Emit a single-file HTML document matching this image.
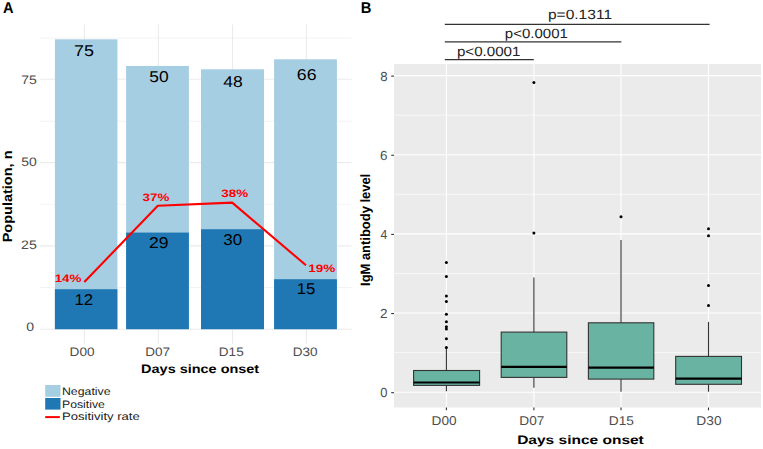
<!DOCTYPE html>
<html><head><meta charset="utf-8"><style>
html,body{margin:0;padding:0;background:#fff;}
svg{display:block;font-family:"Liberation Sans",sans-serif;text-rendering:geometricPrecision;}
</style></head><body>
<svg width="763" height="449" viewBox="0 0 763 449">
<rect width="763" height="449" fill="#fff"/>
<line x1="40" x2="351.5" y1="287.50" y2="287.50" stroke="#ebebeb" stroke-width="0.6"/>
<line x1="40" x2="351.5" y1="204.30" y2="204.30" stroke="#ebebeb" stroke-width="0.6"/>
<line x1="40" x2="351.5" y1="121.20" y2="121.20" stroke="#ebebeb" stroke-width="0.6"/>
<line x1="40" x2="351.5" y1="38.10" y2="38.10" stroke="#ebebeb" stroke-width="0.6"/>
<line x1="40" x2="351.5" y1="329.20" y2="329.20" stroke="#ebebeb" stroke-width="1.1"/>
<line x1="40" x2="351.5" y1="245.90" y2="245.90" stroke="#ebebeb" stroke-width="1.1"/>
<line x1="40" x2="351.5" y1="162.60" y2="162.60" stroke="#ebebeb" stroke-width="1.1"/>
<line x1="40" x2="351.5" y1="79.30" y2="79.30" stroke="#ebebeb" stroke-width="1.1"/>
<line x1="84.40" x2="84.40" y1="24.5" y2="343.7" stroke="#ebebeb" stroke-width="1.1"/>
<line x1="158.40" x2="158.40" y1="24.5" y2="343.7" stroke="#ebebeb" stroke-width="1.1"/>
<line x1="232.50" x2="232.50" y1="24.5" y2="343.7" stroke="#ebebeb" stroke-width="1.1"/>
<line x1="306.40" x2="306.40" y1="24.5" y2="343.7" stroke="#ebebeb" stroke-width="1.1"/>
<rect x="54.90" y="39.32" width="62.50" height="289.88" fill="#a6cee3"/>
<rect x="54.90" y="289.22" width="62.50" height="39.98" fill="#1f78b4"/>
<rect x="126.10" y="65.97" width="62.80" height="263.23" fill="#a6cee3"/>
<rect x="126.10" y="232.57" width="62.80" height="96.63" fill="#1f78b4"/>
<rect x="201.00" y="69.30" width="63.00" height="259.90" fill="#a6cee3"/>
<rect x="201.00" y="229.24" width="63.00" height="99.96" fill="#1f78b4"/>
<rect x="274.10" y="59.31" width="62.80" height="269.89" fill="#a6cee3"/>
<rect x="274.10" y="279.22" width="62.80" height="49.98" fill="#1f78b4"/>
<text x="73.98" y="55.60" font-size="15.70" font-weight="normal" fill="#000" textLength="19.97" lengthAdjust="spacingAndGlyphs">75</text>
<text x="149.30" y="82.40" font-size="15.70" font-weight="normal" fill="#000" textLength="19.38" lengthAdjust="spacingAndGlyphs">50</text>
<text x="223.30" y="86.80" font-size="15.70" font-weight="normal" fill="#000" textLength="19.46" lengthAdjust="spacingAndGlyphs">48</text>
<text x="296.80" y="79.80" font-size="15.70" font-weight="normal" fill="#000" textLength="19.68" lengthAdjust="spacingAndGlyphs">66</text>
<text x="74.43" y="304.50" font-size="15.70" font-weight="normal" fill="#000" textLength="18.62" lengthAdjust="spacingAndGlyphs">12</text>
<text x="149.12" y="248.00" font-size="15.70" font-weight="normal" fill="#000" textLength="19.51" lengthAdjust="spacingAndGlyphs">29</text>
<text x="223.25" y="244.70" font-size="15.70" font-weight="normal" fill="#000" textLength="18.91" lengthAdjust="spacingAndGlyphs">30</text>
<text x="296.72" y="294.40" font-size="15.70" font-weight="normal" fill="#000" textLength="18.68" lengthAdjust="spacingAndGlyphs">15</text>
<polyline points="84.3,282.0 157.8,205.8 232.2,202.6 306.0,265.3" fill="none" stroke="#ff0000" stroke-width="2.1" stroke-linejoin="round"/>
<text x="54.65" y="281.60" font-size="10.80" font-weight="bold" fill="#ff0000" textLength="26.90" lengthAdjust="spacingAndGlyphs">14%</text>
<text x="142.59" y="200.70" font-size="10.80" font-weight="bold" fill="#ff0000" textLength="26.76" lengthAdjust="spacingAndGlyphs">37%</text>
<text x="221.39" y="196.80" font-size="10.80" font-weight="bold" fill="#ff0000" textLength="26.86" lengthAdjust="spacingAndGlyphs">38%</text>
<text x="308.25" y="271.80" font-size="10.80" font-weight="bold" fill="#ff0000" textLength="27.11" lengthAdjust="spacingAndGlyphs">19%</text>
<text x="21.29" y="83.80" font-size="12.30" font-weight="normal" fill="#4d4d4d" textLength="15.50" lengthAdjust="spacingAndGlyphs">75</text>
<text x="21.24" y="166.10" font-size="12.30" font-weight="normal" fill="#4d4d4d" textLength="15.50" lengthAdjust="spacingAndGlyphs">50</text>
<text x="21.09" y="248.60" font-size="12.30" font-weight="normal" fill="#4d4d4d" textLength="15.70" lengthAdjust="spacingAndGlyphs">25</text>
<text x="26.15" y="330.80" font-size="12.30" font-weight="normal" fill="#4d4d4d" textLength="7.79" lengthAdjust="spacingAndGlyphs">0</text>
<text x="69.58" y="355.80" font-size="12.30" font-weight="normal" fill="#4d4d4d" textLength="25.05" lengthAdjust="spacingAndGlyphs">D00</text>
<text x="145.29" y="355.80" font-size="12.30" font-weight="normal" fill="#4d4d4d" textLength="24.79" lengthAdjust="spacingAndGlyphs">D07</text>
<text x="218.89" y="355.80" font-size="12.30" font-weight="normal" fill="#4d4d4d" textLength="24.77" lengthAdjust="spacingAndGlyphs">D15</text>
<text x="292.69" y="355.80" font-size="12.30" font-weight="normal" fill="#4d4d4d" textLength="24.84" lengthAdjust="spacingAndGlyphs">D30</text>
<text x="141.13" y="373.20" font-size="12.20" font-weight="bold" fill="#000" textLength="118.04" lengthAdjust="spacingAndGlyphs">Days since onset</text>
<text transform="rotate(-90)" x="-242.37" y="11.70" font-size="13.30" font-weight="bold" fill="#000" textLength="91.87" lengthAdjust="spacingAndGlyphs">Population, n</text>
<text x="3.04" y="12.60" font-size="15.60" font-weight="bold" fill="#000" textLength="10.55" lengthAdjust="spacingAndGlyphs">A</text>
<rect x="45.2" y="385" width="15.3" height="11.8" fill="#a6cee3"/>
<rect x="45.2" y="398" width="15.3" height="11.6" fill="#1f78b4"/>
<line x1="45.2" x2="59.9" y1="417.1" y2="417.1" stroke="#ff0000" stroke-width="2"/>
<text x="61.99" y="394.60" font-size="10.80" font-weight="normal" fill="#1a1a1a" textLength="48.56" lengthAdjust="spacingAndGlyphs">Negative</text>
<text x="62.00" y="407.60" font-size="10.80" font-weight="normal" fill="#1a1a1a" textLength="42.85" lengthAdjust="spacingAndGlyphs">Positive</text>
<text x="61.93" y="420.30" font-size="10.80" font-weight="normal" fill="#1a1a1a" textLength="77.86" lengthAdjust="spacingAndGlyphs">Positivity rate</text>
<rect x="394" y="64" width="367" height="343.5" fill="#ebebeb"/>
<line x1="394" x2="761" y1="352.62" y2="352.62" stroke="#fff" stroke-width="0.6"/>
<line x1="394" x2="761" y1="273.47" y2="273.47" stroke="#fff" stroke-width="0.6"/>
<line x1="394" x2="761" y1="194.32" y2="194.32" stroke="#fff" stroke-width="0.6"/>
<line x1="394" x2="761" y1="115.17" y2="115.17" stroke="#fff" stroke-width="0.6"/>
<line x1="394" x2="761" y1="392.20" y2="392.20" stroke="#fff" stroke-width="1.1"/>
<line x1="394" x2="761" y1="313.05" y2="313.05" stroke="#fff" stroke-width="1.1"/>
<line x1="394" x2="761" y1="233.90" y2="233.90" stroke="#fff" stroke-width="1.1"/>
<line x1="394" x2="761" y1="154.75" y2="154.75" stroke="#fff" stroke-width="1.1"/>
<line x1="394" x2="761" y1="75.60" y2="75.60" stroke="#fff" stroke-width="1.1"/>
<line x1="446.40" x2="446.40" y1="64" y2="407.5" stroke="#fff" stroke-width="1.1"/>
<line x1="533.90" x2="533.90" y1="64" y2="407.5" stroke="#fff" stroke-width="1.1"/>
<line x1="621.00" x2="621.00" y1="64" y2="407.5" stroke="#fff" stroke-width="1.1"/>
<line x1="708.50" x2="708.50" y1="64" y2="407.5" stroke="#fff" stroke-width="1.1"/>
<line x1="391.2" x2="394" y1="392.70" y2="392.70" stroke="#333" stroke-width="1.1"/>
<line x1="391.2" x2="394" y1="313.55" y2="313.55" stroke="#333" stroke-width="1.1"/>
<line x1="391.2" x2="394" y1="234.40" y2="234.40" stroke="#333" stroke-width="1.1"/>
<line x1="391.2" x2="394" y1="155.25" y2="155.25" stroke="#333" stroke-width="1.1"/>
<line x1="391.2" x2="394" y1="76.10" y2="76.10" stroke="#333" stroke-width="1.1"/>
<line x1="446.40" x2="446.40" y1="407.5" y2="410.3" stroke="#333" stroke-width="1.1"/>
<line x1="533.90" x2="533.90" y1="407.5" y2="410.3" stroke="#333" stroke-width="1.1"/>
<line x1="621.00" x2="621.00" y1="407.5" y2="410.3" stroke="#333" stroke-width="1.1"/>
<line x1="708.50" x2="708.50" y1="407.5" y2="410.3" stroke="#333" stroke-width="1.1"/>
<line x1="446.40" x2="446.40" y1="348.00" y2="370.50" stroke="#333" stroke-width="1.1"/>
<line x1="446.40" x2="446.40" y1="385.40" y2="391.20" stroke="#333" stroke-width="1.1"/>
<rect x="413.60" y="370.50" width="66.00" height="14.90" fill="#69b3a2" stroke="#333" stroke-width="1.1"/>
<line x1="413.60" x2="479.60" y1="382.50" y2="382.50" stroke="#000" stroke-width="2.2"/>
<circle cx="446.40" cy="262.60" r="1.5" fill="#000"/>
<circle cx="446.40" cy="276.50" r="1.5" fill="#000"/>
<circle cx="446.40" cy="296.10" r="1.5" fill="#000"/>
<circle cx="446.40" cy="301.40" r="1.5" fill="#000"/>
<circle cx="446.40" cy="314.30" r="1.5" fill="#000"/>
<circle cx="446.40" cy="321.70" r="1.5" fill="#000"/>
<circle cx="446.40" cy="326.80" r="1.5" fill="#000"/>
<circle cx="446.40" cy="329.00" r="1.5" fill="#000"/>
<circle cx="446.40" cy="338.70" r="1.5" fill="#000"/>
<circle cx="446.40" cy="347.50" r="1.5" fill="#000"/>
<line x1="533.90" x2="533.90" y1="277.50" y2="332.10" stroke="#333" stroke-width="1.1"/>
<line x1="533.90" x2="533.90" y1="377.40" y2="387.70" stroke="#333" stroke-width="1.1"/>
<rect x="501.20" y="332.10" width="65.60" height="45.30" fill="#69b3a2" stroke="#333" stroke-width="1.1"/>
<line x1="501.20" x2="566.80" y1="366.90" y2="366.90" stroke="#000" stroke-width="2.2"/>
<circle cx="533.90" cy="233.00" r="1.5" fill="#000"/>
<circle cx="533.90" cy="82.40" r="1.5" fill="#000"/>
<line x1="621.00" x2="621.00" y1="240.10" y2="322.80" stroke="#333" stroke-width="1.1"/>
<line x1="621.00" x2="621.00" y1="379.10" y2="391.80" stroke="#333" stroke-width="1.1"/>
<rect x="588.40" y="322.80" width="65.40" height="56.30" fill="#69b3a2" stroke="#333" stroke-width="1.1"/>
<line x1="588.40" x2="653.80" y1="367.70" y2="367.70" stroke="#000" stroke-width="2.2"/>
<circle cx="621.00" cy="216.80" r="1.5" fill="#000"/>
<line x1="708.50" x2="708.50" y1="321.90" y2="356.40" stroke="#333" stroke-width="1.1"/>
<line x1="708.50" x2="708.50" y1="384.30" y2="391.70" stroke="#333" stroke-width="1.1"/>
<rect x="675.70" y="356.40" width="65.80" height="27.90" fill="#69b3a2" stroke="#333" stroke-width="1.1"/>
<line x1="675.70" x2="741.50" y1="378.60" y2="378.60" stroke="#000" stroke-width="2.2"/>
<circle cx="708.50" cy="228.70" r="1.5" fill="#000"/>
<circle cx="708.50" cy="235.80" r="1.5" fill="#000"/>
<circle cx="708.50" cy="285.60" r="1.5" fill="#000"/>
<circle cx="708.50" cy="305.40" r="1.5" fill="#000"/>
<line x1="444.80" x2="533.80" y1="59.60" y2="59.60" stroke="#333" stroke-width="1.2"/>
<line x1="444.80" x2="621.30" y1="41.90" y2="41.90" stroke="#333" stroke-width="1.2"/>
<line x1="444.80" x2="709.60" y1="24.30" y2="24.30" stroke="#333" stroke-width="1.2"/>
<text x="456.93" y="56.20" font-size="13.40" font-weight="normal" fill="#222" textLength="63.51" lengthAdjust="spacingAndGlyphs">p&lt;0.0001</text>
<text x="504.83" y="37.50" font-size="13.40" font-weight="normal" fill="#222" textLength="63.00" lengthAdjust="spacingAndGlyphs">p&lt;0.0001</text>
<text x="547.92" y="18.80" font-size="13.40" font-weight="normal" fill="#222" textLength="64.13" lengthAdjust="spacingAndGlyphs">p=0.1311</text>
<text x="380.29" y="397.30" font-size="13.20" font-weight="normal" fill="#4d4d4d" textLength="7.21" lengthAdjust="spacingAndGlyphs">0</text>
<text x="380.12" y="318.15" font-size="13.20" font-weight="normal" fill="#4d4d4d" textLength="7.57" lengthAdjust="spacingAndGlyphs">2</text>
<text x="380.52" y="239.00" font-size="13.20" font-weight="normal" fill="#4d4d4d" textLength="6.84" lengthAdjust="spacingAndGlyphs">4</text>
<text x="380.12" y="159.85" font-size="13.20" font-weight="normal" fill="#4d4d4d" textLength="7.47" lengthAdjust="spacingAndGlyphs">6</text>
<text x="380.23" y="80.70" font-size="13.20" font-weight="normal" fill="#4d4d4d" textLength="7.35" lengthAdjust="spacingAndGlyphs">8</text>
<text x="431.58" y="425.30" font-size="12.80" font-weight="normal" fill="#4d4d4d" textLength="25.05" lengthAdjust="spacingAndGlyphs">D00</text>
<text x="519.28" y="425.30" font-size="12.80" font-weight="normal" fill="#4d4d4d" textLength="25.11" lengthAdjust="spacingAndGlyphs">D07</text>
<text x="608.78" y="425.30" font-size="12.80" font-weight="normal" fill="#4d4d4d" textLength="25.10" lengthAdjust="spacingAndGlyphs">D15</text>
<text x="696.37" y="425.30" font-size="12.80" font-weight="normal" fill="#4d4d4d" textLength="25.16" lengthAdjust="spacingAndGlyphs">D30</text>
<text x="517.16" y="443.70" font-size="12.20" font-weight="bold" fill="#000" textLength="126.63" lengthAdjust="spacingAndGlyphs">Days since onset</text>
<text transform="rotate(-90)" x="-285.97" y="370.30" font-size="13.60" font-weight="bold" fill="#000" textLength="112.18" lengthAdjust="spacingAndGlyphs">IgM antibody level</text>
<text x="360.81" y="12.60" font-size="15.60" font-weight="bold" fill="#000" textLength="10.66" lengthAdjust="spacingAndGlyphs">B</text>
</svg>
</body></html>
